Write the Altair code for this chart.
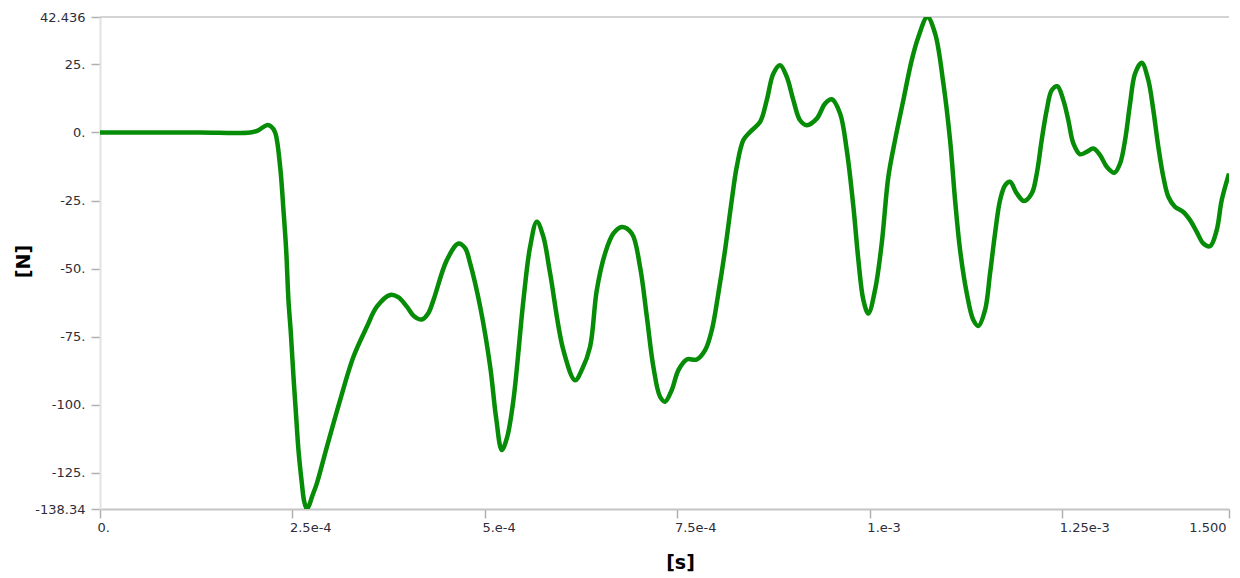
import altair as alt
import pandas as pd

# time in microseconds, force in N
t_us = [0, 65.2, 130.1, 195.1, 205.5, 216.7, 222.3, 227.5, 234.0, 238.3, 241.8, 244.8,
        247.9, 251.3, 254.8, 257.8, 262.2, 265.2, 268.7, 272.3, 275.2, 281.7, 294.7, 311.9,
        329.2, 346.6, 359.6, 376.9, 387.3, 398.6, 408.0, 418.1, 426.2, 433.1, 450.5, 465.6,
        474.3, 480.8, 493.8, 506.8, 514.6, 521.9, 528.8, 537.0, 550.0, 558.7, 567.4, 575.6,
        584.7, 601.9, 617.1, 626.2, 636.6, 645.3, 656.1, 666.9, 677.8, 690.8, 701.5, 710.3,
        718.8, 727.5, 734.0, 742.7, 751.3, 762.2, 775.2, 786.0, 794.7, 803.2, 811.9, 820.6,
        827.1, 835.7, 844.4, 857.4, 866.1, 874.7, 883.4, 892.1, 900.6, 909.3, 918.1, 931.0,
        941.8, 950.5, 961.3, 970.0, 978.6, 985.1, 991.6, 998.0, 1006.7, 1015.4, 1024.0,
        1032.7, 1043.5, 1054.4, 1063.0, 1074.7, 1084.7, 1095.5, 1104.2, 1110.7, 1117.2,
        1125.9, 1134.4, 1140.9, 1149.6, 1156.1, 1162.6, 1169.1, 1175.6, 1182.1, 1190.8,
        1200.3, 1210.3, 1216.8, 1223.2, 1229.7, 1236.2, 1243.5, 1251.3, 1257.8, 1264.3,
        1273.0, 1281.7, 1290.3, 1299.0, 1307.7, 1317.6, 1325.0, 1331.5, 1338.0, 1344.5,
        1353.1, 1361.7, 1368.2, 1374.7, 1381.2, 1387.7, 1396.4, 1407.2, 1415.9, 1424.6,
        1433.2, 1441.8, 1450.5, 1457.0, 1466.5]
force = [0, 0, 0, 0, 0.8, 2.7, 2.2, 0, -12.6, -28.5, -43, -61.6,
         -73.7, -89.7, -104.4, -116.7, -128.9, -135.5, -138.34, -136.5, -134, -128.9, -115.5, -98.3,
         -82.4, -71.4, -64, -59.7, -60.5, -64, -67.5, -68.7, -66.5, -61.6, -46.9, -40.8,
         -42.5, -48.1, -64, -86, -105, -116.7, -112, -98.3, -61.6, -42, -32.8, -38,
         -51.8, -80, -91, -87, -78.7, -57.9, -44.4, -37.1, -34.7, -37.1, -49.4, -67.7,
         -86.1, -97.1, -98.9, -94.6, -87.3, -83.4, -83.4, -80, -72.6, -59.1, -43.2, -24.9,
         -12.6, -2.8, 0.2, 3.9, 11.9, 21.7, 24.7, 20.4, 11.9, 4.5, 2.7, 5.1,
         10.6, 12.2, 7, -6.5, -27.3, -46.9, -61.6, -66.5, -57.9, -40.8, -16.3,
         -2.8, 11.9, 26.6, 35.1, 42.436, 36.4, 18, -2.8, -24.9, -43.2,
         -59.1, -68.9, -71.1, -65.3, -51.8, -37.1, -24.9, -19.4, -18.1, -22.4,
         -25.2, -22.4, -15.1, -2.8, 8.2, 15.5, 17, 11.9, 4.5, -4,
         -8, -7.1, -5.9, -8.3, -12.6, -14.8, -11.4, -2.8, 10.6, 21.7,
         25.6, 19.2, 8.2, -5.3, -16.3, -23.6, -27.3, -29.2, -32.2, -36.5,
         -40.8, -41.8, -35.9, -24.9, -15.1]

X_MAX = 1.4665e-3
Y_MIN = -138.34
Y_MAX = 42.436

x_tick_vals = [0, 0.00025, 0.0005, 0.00075, 0.001, 0.00125, X_MAX]
x_tick_labels = ["0.", "2.5e-4", "5.e-4", "7.5e-4", "1.e-3", "1.25e-3", "1.500"]
y_tick_vals = [Y_MAX, 25, 0, -25, -50, -75, -100, -125, Y_MIN]
y_tick_labels = ["42.436", "25.", "0.", "-25.", "-50.", "-75.", "-100.", "-125.", "-138.34"]


def label_expr(vals, labels, tol):
    expr = "''"
    for v, l in reversed(list(zip(vals, labels))):
        expr = f"abs(datum.value - ({v})) < {tol} ? '{l}' : {expr}"
    return expr


df = pd.DataFrame({"t": [v * 1e-6 for v in t_us], "f": force})

FONT = "DejaVu Sans"
LABEL_COLOR = "#2d2d3a"

x_axis = alt.Axis(
    values=x_tick_vals,
    labelExpr=label_expr(x_tick_vals, x_tick_labels, 1e-9),
    grid=False,
    domainColor="#c4c4c4",
    domainWidth=2,
    tickColor="#b0b0b0",
    tickWidth=1.5,
    tickSize=9,
    labelFont=FONT,
    labelFontSize=13,
    labelColor=LABEL_COLOR,
    labelAlign={"condition": {"test": "datum.value > 0.0014", "value": "right"}, "value": "left"},
    labelBaseline="top",
    labelOffset=-3,
    labelPadding=3,
    labelFlush=False,
    labelOverlap=False,
    labelBound=False,
    title="[s]",
    titleFont=FONT,
    titleFontSize=19,
    titleFontWeight="bold",
    titleColor="#000000",
    titleX=580,
    titleY=59,
    titleAlign="center",
    titleBaseline="alphabetic",
)

y_axis = alt.Axis(
    values=y_tick_vals,
    labelExpr=label_expr(y_tick_vals, y_tick_labels, 1e-6),
    grid=False,
    domainColor="#e2e2e2",
    domainWidth=2,
    tickColor="#b0b0b0",
    tickWidth=1.5,
    tickSize=9,
    labelFont=FONT,
    labelFontSize=13,
    labelColor=LABEL_COLOR,
    labelPadding=6,
    labelFlush=False,
    labelOverlap=False,
    labelBound=False,
    title="[N]",
    titleFont=FONT,
    titleFontSize=19,
    titleFontWeight="bold",
    titleColor="#000000",
    titleAngle=270,
    titleX=-71,
    titleY=244,
    titleAlign="center",
    titleBaseline="alphabetic",
)

line = alt.Chart(df).mark_line(
    color="#078c07", strokeWidth=4.5, interpolate="catmull-rom", clip=True
).encode(
    x=alt.X("t:Q", scale=alt.Scale(domain=[0, X_MAX], nice=False, zero=False), axis=x_axis),
    y=alt.Y("f:Q", scale=alt.Scale(domain=[Y_MIN, Y_MAX], nice=False, zero=False), axis=y_axis),
)

top_rule = alt.Chart(pd.DataFrame({"f": [Y_MAX]})).mark_rule(
    color="#c6c6c6", strokeWidth=1.5
).encode(y="f:Q")

chart = alt.layer(top_rule, line).properties(
    width=1129,
    height=492,
    padding={"left": 92, "top": 9, "right": 3, "bottom": 65},
    autosize=alt.AutoSizeParams(type="none"),
).configure_view(stroke=None)

chart.save("out.html", embed_options={"renderer": "svg", "actions": False})
